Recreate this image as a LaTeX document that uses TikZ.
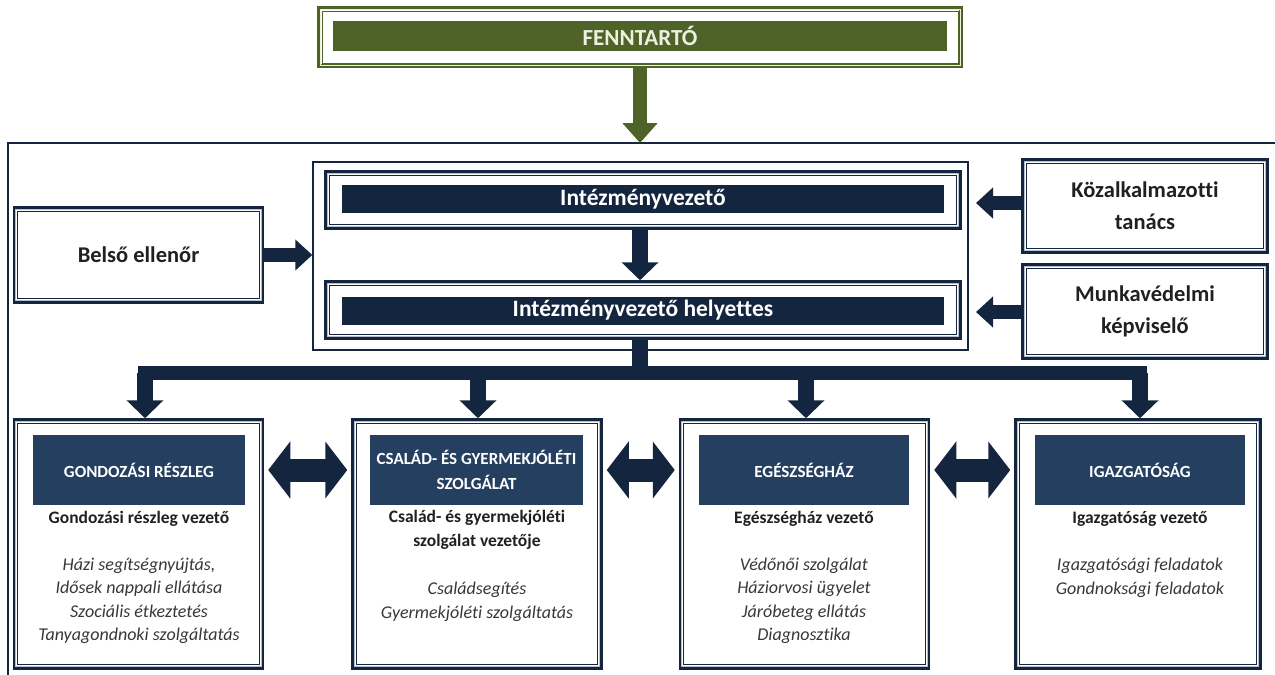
\documentclass[tikz,border=0pt]{standalone}
\usepackage{fontspec}
\setmainfont{Carlito}[Ligatures=NoCommon]
\usetikzlibrary{arrows.meta,calc}
\definecolor{navy}{HTML}{14253F}
\definecolor{hdrblue}{HTML}{243F60}
\definecolor{olive}{HTML}{4F6228}
\definecolor{palegreen}{HTML}{EBF1DE}
\definecolor{lgray}{HTML}{B8BEC8}
\definecolor{txt}{HTML}{202020}
\definecolor{itxt}{HTML}{383838}
\begin{document}
\begin{tikzpicture}[x=1pt,y=-1pt,
  frm/.style={draw=navy, line width=3.5pt, fill=white, inner sep=0pt},
  gfrm/.style={draw=olive, line width=4pt, fill=white, inner sep=0pt},
  plain/.style={draw=navy, line width=1.4pt, fill=white, inner sep=0pt},
  darkbar/.style={fill=navy, text=white, inner sep=0pt, font=\bfseries\fontsize{23.5}{26}\selectfont},
  greenbar/.style={fill=olive, text=palegreen, inner sep=0pt, font=\bfseries\fontsize{23}{26}\selectfont},
  hdr/.style={fill=hdrblue, text=white, inner sep=0pt, align=center, font=\bfseries\fontsize{17}{25}\selectfont},
  sidetxt/.style={text=txt, align=center, font=\bfseries\fontsize{22.5}{32}\selectfont},
  lead/.style={text=txt, align=center, font=\bfseries\fontsize{17.5}{24}\selectfont},
  lst/.style={text=itxt, align=center, font=\itshape\fontsize{18}{23.5}\selectfont},
  barr/.style={draw=navy, line width=16pt, -{Triangle[width=36pt,length=18pt]}},
  sarr/.style={draw=navy, line width=14pt, -{Triangle[width=30pt,length=17pt]}},
  garr/.style={draw=olive, line width=14pt, -{Triangle[width=34pt,length=20pt]}},
  darr/.style={draw=navy, line width=23pt, {Triangle[width=56pt,length=22pt]}-{Triangle[width=56pt,length=22pt]}, shorten <=4pt, shorten >=4pt},
  innerline/.style={draw=navy, line width=1pt},
  grayline/.style={draw=lgray, line width=1pt}
]
\useasboundingbox (0,0) rectangle (1275,675);
\fill[white] (0,0) rectangle (1275,675);

% outer frame
\coordinate (ftop) at (640,143);
\draw[navy, line width=1.8pt] (1275,143) -- (8,143) -- (8,675);

% FENNTARTO
\node[gfrm, minimum width=642pt, minimum height=58pt] (fenn) at (640,37) {};
\draw[draw=palegreen, line width=1pt] ([shift={(3,3)}]fenn.north west) rectangle ([shift={(-3,-3)}]fenn.south east);
\draw[draw=olive, line width=1pt] ([shift={(5,5)}]fenn.north west) rectangle ([shift={(-5,-5)}]fenn.south east);
\node[greenbar, minimum width=614pt, minimum height=30pt] (fennbar) at (640,36) {FENNTARTÓ};
\draw[garr] (fenn.south) -- (fenn.south |- ftop);

% central block
\node[plain, minimum width=655pt, minimum height=188pt] (central) at (640.5,256) {};
\node[frm, minimum width=634pt, minimum height=56pt] (intv) at (643,200) {};
\node[frm, minimum width=634pt, minimum height=56pt] (hely) at (643,310) {};
\foreach \n in {intv,hely}{
  \draw[grayline] ([shift={(3,3)}]\n.north west) rectangle ([shift={(-3,-3)}]\n.south east);
  \draw[innerline] ([shift={(5,5)}]\n.north west) rectangle ([shift={(-5,-5)}]\n.south east);
}
\node[darkbar, minimum width=602pt, minimum height=28pt] (intvbar) at (643,199) {Intézményvezető};
\node[darkbar, minimum width=602pt, minimum height=28pt] (helybar) at (643,310.5) {Intézményvezető helyettes};
\draw[barr] (intv.south -| 640,0) -- (hely.north -| 640,0);

% side boxes
\node[frm, minimum width=248pt, minimum height=94pt] (belso) at (138.5,255) {};
\node[frm, minimum width=244pt, minimum height=92pt] (kozalk) at (1145,206) {};
\node[frm, minimum width=244pt, minimum height=93pt] (munka) at (1145,311.5) {};
\foreach \n in {belso,kozalk,munka}{
  \draw[grayline] ([shift={(3,3)}]\n.north west) rectangle ([shift={(-3,-3)}]\n.south east);
  \draw[innerline] ([shift={(5,5)}]\n.north west) rectangle ([shift={(-5,-5)}]\n.south east);
}
\node[sidetxt] at (belso) {Belső ellenőr};
\node[sidetxt] at (kozalk) {Közalkalmazotti\\tanács};
\node[sidetxt] at (munka) {Munkavédelmi\\képviselő};
\draw[sarr] (belso.east) -- (central.west |- belso.east);
\coordinate (kz) at (976,203);
\coordinate (mv) at (976,312);
\draw[sarr] (kozalk.west |- kz) -- (kz);
\draw[sarr] (munka.west |- mv) -- (mv);

% branches
\coordinate (b1) at (145,373);
\coordinate (b2) at (478,373);
\coordinate (b3) at (806,373);
\coordinate (b4) at (1140,373);
\draw[navy, line width=16pt] (hely.south -| 640,0) -- (640,373);
\draw[navy, line width=14pt, line cap=rect] (b1) -- (b4);

% bottom boxes
\node[frm, minimum width=248pt, minimum height=248pt] (gond) at (138.5,544) {};
\node[frm, minimum width=248pt, minimum height=248pt] (csal) at (477,544) {};
\node[frm, minimum width=248pt, minimum height=248pt] (egesz) at (804.5,544) {};
\node[frm, minimum width=244pt, minimum height=248pt] (igaz) at (1138,544) {};
\foreach \n in {gond,csal,egesz,igaz}{
  \draw[grayline] ([shift={(3,3)}]\n.north west) rectangle ([shift={(-3,-3)}]\n.south east);
  \draw[innerline] ([shift={(5,5)}]\n.north west) rectangle ([shift={(-5,-5)}]\n.south east);
}
\draw[barr] (b1) -- (b1 |- gond.north);
\draw[barr] (b2) -- (b2 |- csal.north);
\draw[barr] (b3) -- (b3 |- egesz.north);
\draw[barr] (b4) -- (b4 |- igaz.north);

\node[hdr, minimum width=212pt, minimum height=70pt] (gondh) at (139,470) {GONDOZÁSI RÉSZLEG};
\node[hdr, minimum width=213pt, minimum height=70pt] (csalh) at (476.5,470) {CSALÁD- ÉS GYERMEKJÓLÉTI\\SZOLGÁLAT};
\node[hdr, minimum width=210pt, minimum height=70pt] (egeszh) at (804,470) {EGÉSZSÉGHÁZ};
\node[hdr, minimum width=210pt, minimum height=70pt] (igazh) at (1140,470) {IGAZGATÓSÁG};

\node[lead] (gondl) at (139,519) {Gondozási részleg vezető};
\node[lead] (csall) at (477,530) {Család- és gyermekjóléti\\szolgálat vezetője};
\node[lead] (egeszl) at (804,519) {Egészségház vezető};
\node[lead] (igazl) at (1140,519) {Igazgatóság vezető};

\node[lst] (gondt) at (139,601) {Házi segítségnyújtás,\\Idősek nappali ellátása\\Szociális étkeztetés\\Tanyagondnoki szolgáltatás};
\node[lst] (csalt) at (477,602) {Családsegítés\\Gyermekjóléti szolgáltatás};
\node[lst] (egeszt) at (804,601) {Védőnői szolgálat\\Háziorvosi ügyelet\\Járóbeteg ellátás\\Diagnosztika};
\node[lst] (igazt) at (1140,578) {Igazgatósági feladatok\\Gondnoksági feladatok};

\draw[darr] (gond.east |- gondh) -- (csal.west |- gondh);
\draw[darr] (csal.east |- gondh) -- (egesz.west |- gondh);
\draw[darr] (egesz.east |- gondh) -- (igaz.west |- gondh);
\end{tikzpicture}
\end{document}
